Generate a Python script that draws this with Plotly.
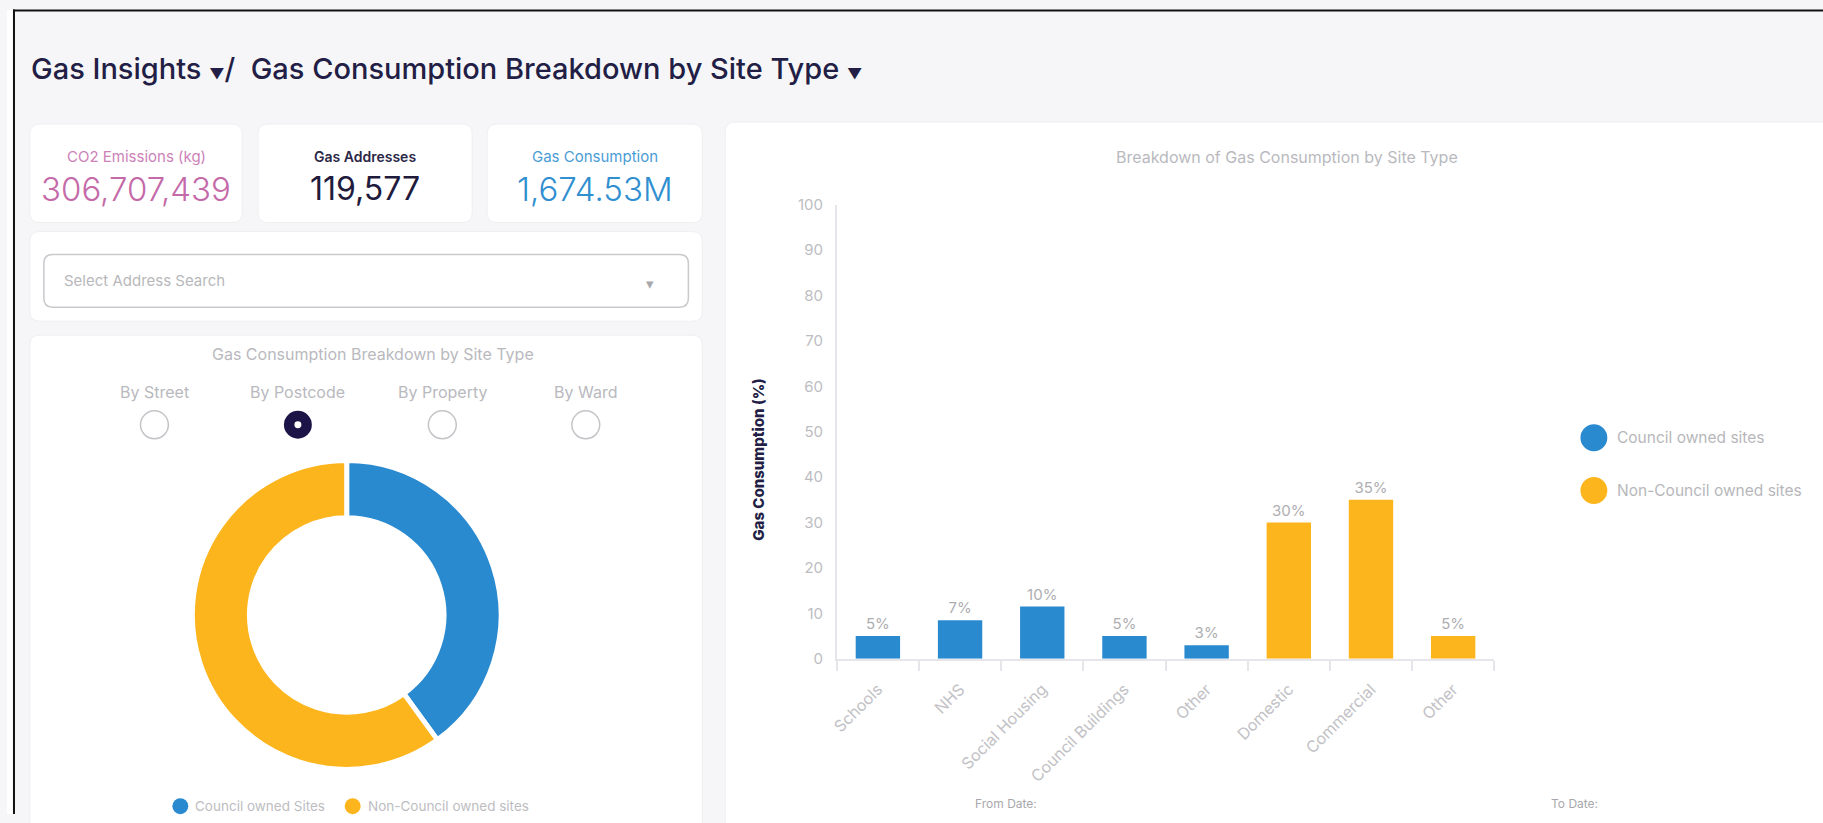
import plotly.graph_objects as go

W, H = 1823, 823
# measured page placement of the figure on the photographed screen (vertical only)
Y_OFF, Y_SCALE = 7.5, 0.981

# ---------------- data ----------------
categories = ["Schools", "NHS", "Social Housing", "Council Buildings", "Other",
              "Domestic", "Commercial", "Other"]
bar_values = [5, 8.5, 11.5, 5, 3, 30, 35, 5]
bar_labels = ["5%", "7%", "10%", "5%", "3%", "30%", "35%", "5%"]
bar_groups = ["Council owned sites", "Council owned sites", "Council owned sites",
              "Council owned sites", "Council owned sites",
              "Non-Council owned sites", "Non-Council owned sites", "Non-Council owned sites"]
bar_legend = ["Council owned sites", "Non-Council owned sites"]

donut_labels = ["Council owned Sites", "Non-Council owned sites"]
donut_values = [40, 60]

kpi_labels = ["CO2 Emissions (kg)", "Gas Addresses", "Gas Consumption"]
kpi_values = ["306,707,439", "119,577", "1,674.53M"]

radio_options = ["By Street", "By Postcode", "By Property", "By Ward"]
radio_selected = "By Postcode"

y_ticks = [0, 10, 20, 30, 40, 50, 60, 70, 80, 90, 100]

# ---------------- styles ----------------
BLUE = "#2a8ad0"
YELLOW = "#fdb51e"
NAVY = "#221e45"
GREY_TXT = "#b9b9be"
FONT = "Inter"
group_color = {"Council owned sites": BLUE, "Non-Council owned sites": YELLOW}


def px(x):
    return x / W


def py(y):
    return 1 - ((y - Y_OFF) / Y_SCALE) / H


def rrect(x0, y0, x1, y1, r, fill, line="#efeff2", lw=1):
    path = (f"M {px(x0 + r)} {py(y0)} L {px(x1 - r)} {py(y0)} "
            f"Q {px(x1)} {py(y0)} {px(x1)} {py(y0 + r)} "
            f"L {px(x1)} {py(y1 - r)} Q {px(x1)} {py(y1)} {px(x1 - r)} {py(y1)} "
            f"L {px(x0 + r)} {py(y1)} Q {px(x0)} {py(y1)} {px(x0)} {py(y1 - r)} "
            f"L {px(x0)} {py(y0 + r)} Q {px(x0)} {py(y0)} {px(x0 + r)} {py(y0)} Z")
    return dict(type="path", path=path, xref="paper", yref="paper",
                fillcolor=fill, line=dict(color=line, width=lw), layer="below")


def circle(cx, cy, r, fill, line=None, lw=0):
    return dict(type="circle", xref="paper", yref="paper",
                x0=px(cx - r), x1=px(cx + r), y0=py(cy + r), y1=py(cy - r),
                fillcolor=fill, line=dict(color=line or fill, width=lw), layer="above")


def text(x, y, s, size, color, xanchor="center", yanchor="middle", weight=None, angle=0):
    f = dict(family=FONT, size=size, color=color)
    if weight:
        f["weight"] = weight
    return dict(x=px(x), y=py(y), xref="paper", yref="paper", text=s, showarrow=False,
                xanchor=xanchor, yanchor=yanchor, font=f, textangle=angle)


shapes = []
ann = []

# white outer strip + frame lines
shapes.append(dict(type="rect", xref="paper", yref="paper", x0=0, x1=px(7), y0=0, y1=1,
                   fillcolor="white", line=dict(width=0), layer="below"))
shapes.append(dict(type="line", xref="paper", yref="paper", x0=px(6), x1=1,
                   y0=py(8), y1=py(8), line=dict(color="#111111", width=2), layer="above"))
shapes.append(dict(type="line", xref="paper", yref="paper", x0=px(7), x1=px(7),
                   y0=py(7), y1=0, line=dict(color="#111111", width=2), layer="above"))

# cards
kpi_boxes = [(23, 236), (252, 467), (482, 698)]
for (x0, x1) in kpi_boxes:
    shapes.append(rrect(x0, 122, x1, 221, 10, "white"))
shapes.append(rrect(23, 230, 698, 320, 10, "white"))
shapes.append(rrect(37, 253, 684, 306, 9, "white", line="#c9c9cd", lw=1.5))
shapes.append(rrect(23, 334, 698, 860, 10, "white"))
shapes.append(rrect(721, 120, W + 20, 860, 10, "white"))

# title
ann.append(text(22, 66, "Gas Insights <span style='font-size:15px'>▼</span>/  Gas Consumption "
                        "Breakdown by Site Type <span style='font-size:15px'>▼</span>", 29, NAVY,
                xanchor="left", weight=500))

# KPI texts
kpi_label_colors = ["#cc82b8", "#2b2746", "#4a9cd6"]
kpi_value_colors = ["#c56aa8", "#1f1b3d", "#2f8fd0"]
for i, (x0, x1) in enumerate(kpi_boxes):
    cx = (x0 + x1) / 2
    ann.append(text(cx, 155, kpi_labels[i], 15 if i != 1 else 14, kpi_label_colors[i],
                    weight=600 if i == 1 else 400))
    ann.append(text(cx, 187, kpi_values[i], 33 if i != 1 else 32, kpi_value_colors[i],
                    weight=300 if i != 1 else 400))

# search box
ann.append(text(55, 279, "Select Address Search", 15, "#b8b8bc", xanchor="left"))
ann.append(text(645, 282, "▾", 15, "#a9a9ad"))

# donut card
ann.append(text(367, 353, "Gas Consumption Breakdown by Site Type", 16, GREY_TXT))
radio_x = [148, 292, 437, 581]
for i, opt in enumerate(radio_options):
    ann.append(text(radio_x[i], 391, opt, 16, GREY_TXT))
    if opt == radio_selected:
        shapes.append(circle(radio_x[i], 424, 14, "#1c1446"))
        shapes.append(circle(radio_x[i], 424, 3.5, "white"))
    else:
        shapes.append(circle(radio_x[i], 424, 14, "rgba(0,0,0,0)", line="#c5c5c9", lw=1.5))

# donut legend
donut_leg_x = [174, 347]
for i, lab in enumerate(donut_labels):
    shapes.append(circle(donut_leg_x[i], 807, 8, [BLUE, YELLOW][i]))
    ann.append(text(donut_leg_x[i] + 13, 807, lab, 13.5, "#bdbdc1", xanchor="left"))

# bar chart texts
ann.append(text(1285, 155, "Breakdown of Gas Consumption by Site Type", 16, GREY_TXT))
ann.append(text(755, 459, "Gas Consumption (%)", 15, NAVY, weight=800, angle=-90))
for i, lab in enumerate(bar_legend):
    cy = 437 + 53 * i
    shapes.append(circle(1593, cy, 13.5, group_color[lab]))
    ann.append(text(1614, cy, lab, 15.5, "#b7b7bb", xanchor="left"))
ann.append(text(970, 814, "From Date:", 12, "#a8a8ac", xanchor="left", yanchor="bottom"))
ann.append(text(1548, 814, "To Date:", 12, "#a8a8ac", xanchor="left", yanchor="bottom"))

# ---------------- traces ----------------
fig = go.Figure()

R = 155
CX, CY = 341, 615
fig.add_trace(go.Pie(
    labels=donut_labels, values=donut_values, hole=0.63, sort=False,
    direction="clockwise", rotation=0, textinfo="none", showlegend=False,
    marker=dict(colors=[BLUE, YELLOW], line=dict(color="white", width=5)),
    domain=dict(x=[px(CX - R), px(CX + R)], y=[py(CY + R), py(CY - R)]),
))

x_idx = list(range(len(categories)))
fig.add_trace(go.Bar(
    x=x_idx, y=bar_values, text=bar_labels, textposition="outside",
    textfont=dict(family=FONT, size=15, color="#aeaeb2"),
    marker=dict(color=[group_color[g] for g in bar_groups], line=dict(width=0)),
    width=0.54, cliponaxis=False, showlegend=False,
))

fig.update_layout(
    width=W, height=H, margin=dict(l=0, r=0, t=0, b=0),
    paper_bgcolor="#f6f6f8", plot_bgcolor="rgba(0,0,0,0)",
    shapes=shapes, annotations=ann, barmode="overlay",
    font=dict(family=FONT),
    xaxis=dict(domain=[px(833), px(1493)], range=[-0.5, len(categories) - 0.5],
               tickmode="array", tickvals=x_idx, ticktext=categories, tickangle=-45,
               tickfont=dict(family=FONT, size=16, color="#c2c2c6"),
               ticks="outside", ticklen=13, tickcolor="rgba(0,0,0,0)",
               showgrid=False, zeroline=False,
               showline=True, linecolor="#e6e6ea", linewidth=2,
               minor=dict(tickmode="array", tickvals=[i - 0.5 for i in range(len(categories) + 1)],
                          ticks="outside", ticklen=10, tickcolor="#e6e6ea", tickwidth=1.5,
                          showgrid=False),
               fixedrange=True),
    yaxis=dict(domain=[py(659), py(203)], range=[0, 100], tickmode="array", tickvals=y_ticks,
               tickfont=dict(family=FONT, size=15, color="#bdbdc1"),
               ticks="outside", ticklen=9, tickcolor="rgba(0,0,0,0)",
               showgrid=False, zeroline=False, showline=True, linecolor="#e6e6ea", linewidth=1.5,
               fixedrange=True),
)

fig.write_html(
    "out.html",
    config={"displayModeBar": False},
    post_script="document.documentElement.style.overflow='hidden';"
                "document.body.style.margin='0';document.body.style.overflow='hidden';",
)
